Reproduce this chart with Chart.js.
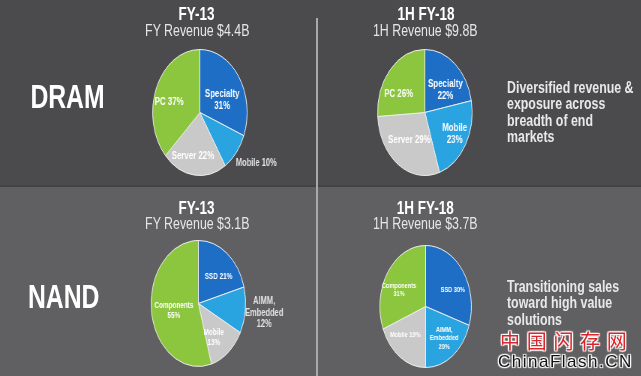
<!DOCTYPE html>
<html>
<head>
<meta charset="utf-8">
<script src="https://cdn.jsdelivr.net/npm/chart.js@4.4.1/dist/chart.umd.min.js"></script>
<style>
  body{margin:0;width:641px;height:376px;overflow:hidden;position:relative;
       background:linear-gradient(#4b4b4d 0,#4b4b4d 185px,#434345 185px,#434345 187px,#606062 187px,#606062 376px);
       font-family:"Liberation Sans",Arial,sans-serif;}
  /* the slide is squeezed horizontally, so draw it wide and compress */
  #stage{position:absolute;left:0;top:0;width:855px;height:376px;transform:scaleX(0.75);transform-origin:0 0;}
  .t{position:absolute;white-space:nowrap;line-height:1;}
  .c{text-align:center;width:240px;}
  .big{font-size:33px;font-weight:bold;color:#fff;}
  .title{font-size:18px;font-weight:bold;color:#fff;}
  .sub{font-size:16.5px;color:#e6e6e6;}
  .note{font-size:16.5px;font-weight:bold;color:#e8e8e8;line-height:16.5px;}
  canvas{position:absolute;}
  #vline{position:absolute;left:316px;top:18px;width:2px;height:358px;background:#a9a9a9;}
  .wm{position:absolute;white-space:nowrap;line-height:1;
      text-shadow:0 0 2px #fff,0 0 2px #fff,1px 1px 1px #fff,-1px -1px 1px #fff,1px -1px 1px #fff,-1px 1px 1px #fff;}
</style>
</head>
<body>
<div id="vline"></div>
<div id="stage">
  <div class="t c big" style="left:-30px;top:79.7px;">DRAM</div>
  <div class="t c big" style="left:-35px;top:279.7px;">NAND</div>

  <div class="t c title" style="left:142px;top:4.7px;">FY-13</div>
  <div class="t c sub" style="left:143px;top:21.9px;">FY Revenue $4.4B</div>
  <div class="t c title" style="left:448px;top:4.7px;">1H FY-18</div>
  <div class="t c sub" style="left:447px;top:21.9px;">1H Revenue $9.8B</div>

  <div class="t c title" style="left:142px;top:199px;">FY-13</div>
  <div class="t c sub" style="left:143px;top:214.9px;">FY Revenue $3.1B</div>
  <div class="t c title" style="left:447px;top:199px;">1H FY-18</div>
  <div class="t c sub" style="left:447px;top:214.9px;">1H Revenue $3.7B</div>

  <div class="t note" style="left:676px;top:78.6px;">Diversified revenue &amp;<br>exposure across<br>breadth of end<br>markets</div>
  <div class="t note" style="left:676px;top:277.9px;">Transitioning sales<br>toward high value<br>solutions</div>

  <canvas id="dramFy13"></canvas>
  <canvas id="dramFy18"></canvas>
  <canvas id="nandFy13"></canvas>
  <canvas id="nandFy18"></canvas>
</div>
<div class="wm" style="left:500px;top:331px;font-family:'Noto Sans CJK SC',sans-serif;font-size:20px;letter-spacing:6.7px;color:#d8262c;">中国闪存网</div>
<div class="wm" style="left:498px;top:353px;font-size:17px;letter-spacing:1.5px;color:#111;">ChinaFlash.CN</div>

<script>
// data
const dramCategories = ['Specialty', 'Mobile', 'Server', 'PC'];
const dramFy13Values = [31, 10, 22, 37];
const dramFy18Values = [22, 23, 29, 26];
const nandCategories = ['SSD', 'AIMM, Embedded', 'Mobile', 'Components'];
const nandFy13Values = [21, 12, 13, 55];
const nandFy18Values = [30, 20, 19, 31];
const sliceColors = ['#1f6ec6', '#2aa4e0', '#c9c9c9', '#8cc63f'];

// where each pie sits (stage coordinates) and how its labels are placed
const pies = [
  {id: 'dramFy13', cats: dramCategories, vals: dramFy13Values, cx: 266, cy: 112, r: 63, size: 10.5,
   wrap: [1, 0, 0, 0], dist: [0.51, 1.44, 0.71, 0.67], nudge: [12, -5.6, 4.8, -9.4], outside: [0, 1, 0, 0]},
  {id: 'dramFy18', cats: dramCategories, vals: dramFy18Values, cx: 566.7, cy: 112, r: 63, size: 10.5,
   wrap: [1, 1, 0, 0], dist: [0.56, 0.72, 0.55, 0.63], nudge: [11.4, -1.8, 2.3, -14.9], outside: [0, 0, 0, 0]},
  {id: 'nandFy13', cats: nandCategories, vals: nandFy13Values, cx: 264.7, cy: 303.5, r: 63, size: 8.5,
   wrap: [0, 1, 1, 1], dist: [0.6, 1.4, 0.63, 0.53], nudge: [7.9, -0.2, 8.2, -4.1], outside: [0, 1, 0, 0]},
  {id: 'nandFy18', cats: nandCategories, vals: nandFy18Values, cx: 567.3, cy: 306, r: 61, size: 7.5,
   wrap: [0, 1, 0, 1], dist: [0.65, 0.66, 0.64, 0.64], nudge: [12, -2, 9.8, -9.2], outside: [0, 0, 0, 0]}
];

const padX = 60, padY = 4;

function labelPlugin(cfg) {
  return {
    id: 'sliceLabels',
    afterDatasetsDraw(chart) {
      const ctx = chart.ctx;
      const meta = chart.getDatasetMeta(0);
      const names = chart.data.labels;
      const values = chart.data.datasets[0].data;
      ctx.save();
      ctx.textAlign = 'center';
      ctx.textBaseline = 'middle';
      meta.data.forEach((arc, i) => {
        const p = arc.getProps(['x', 'y', 'startAngle', 'endAngle', 'outerRadius'], true);
        const a = (p.startAngle + p.endAngle) / 2 + cfg.nudge[i] * Math.PI / 180;
        const rr = p.outerRadius * cfg.dist[i];
        const x = p.x + Math.cos(a) * rr;
        const y = p.y + Math.sin(a) * rr;
        let lines;
        if (cfg.wrap[i]) {
          const parts = names[i].split(', ');
          lines = parts.map((s, j) => j < parts.length - 1 ? s + ',' : s).concat(values[i] + '%');
        } else {
          lines = [names[i] + ' ' + values[i] + '%'];
        }
        const size = cfg.outside[i] ? 10 : cfg.size;
        ctx.font = 'bold ' + size + 'px "Liberation Sans", Arial, sans-serif';
        ctx.fillStyle = cfg.outside[i] ? '#e2e2e2' : '#ffffff';
        const lh = size * 1.15;
        lines.forEach((s, j) => ctx.fillText(s, x, y + (j - (lines.length - 1) / 2) * lh));
      });
      ctx.restore();
    }
  };
}

pies.forEach(cfg => {
  const canvasElement = document.getElementById(cfg.id);
  const w = 2 * cfg.r + 1 + 2 * padX;
  const h = 2 * cfg.r + 1 + 2 * padY;
  canvasElement.width = w;
  canvasElement.height = h;
  canvasElement.style.width = w + 'px';
  canvasElement.style.height = h + 'px';
  canvasElement.style.left = (cfg.cx - cfg.r - 0.5 - padX) + 'px';
  canvasElement.style.top = (cfg.cy - cfg.r - 0.5 - padY) + 'px';

  new Chart(canvasElement, {
    type: 'pie',
    data: {
      labels: cfg.cats,
      datasets: [{
        data: cfg.vals,
        backgroundColor: sliceColors,
        borderColor: '#eeeeee',
        borderWidth: 1
      }]
    },
    options: {
      responsive: false,
      animation: false,
      devicePixelRatio: 1,
      layout: {padding: {left: padX, right: padX, top: padY, bottom: padY}},
      plugins: {legend: {display: false}, tooltip: {enabled: false}}
    },
    plugins: [labelPlugin(cfg)]
  });
});
</script>
</body>
</html>
